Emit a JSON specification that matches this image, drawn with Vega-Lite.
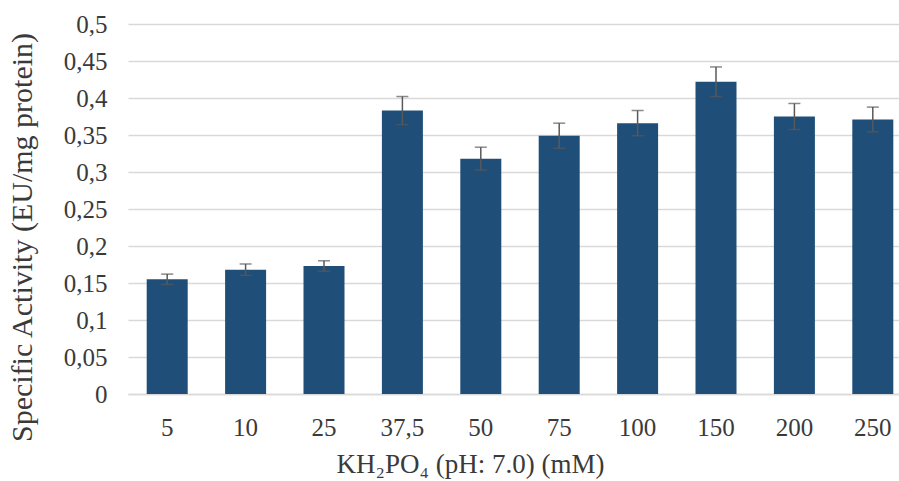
{
  "$schema": "https://vega.github.io/schema/vega-lite/v6.json",
  "autosize": {"type": "none"},
  "width": 784,
  "height": 370,
  "padding": {"left": 128, "top": 24, "right": 0, "bottom": 87},
  "background": "white",
  "config": {
    "view": {"stroke": null},
    "font": "Liberation Serif",
    "axisY": {
      "tickCount": 10,
      "labelOverlap": false,
      "labelExpr": "replace(format(datum.value, '~g'), '.', ',')",
      "labelFontSize": 25, "labelColor": "#3a3a3a", "labelPadding": 21,
      "ticks": false, "domain": false,
      "gridColor": "#d9d9d9", "gridWidth": 1.5,
      "titleFontSize": 30, "titleFontWeight": "normal", "titleColor": "#3a3a3a",
      "titleX": -97, "titleY": 213, "titleBaseline": "alphabetic"
    }
  },
  "data": {"values": [
    {"conc": "5", "value": 0.155, "err": 0.007},
    {"conc": "10", "value": 0.168, "err": 0.0077},
    {"conc": "25", "value": 0.173, "err": 0.007},
    {"conc": "37,5", "value": 0.383, "err": 0.019},
    {"conc": "50", "value": 0.318, "err": 0.0155},
    {"conc": "75", "value": 0.349, "err": 0.017},
    {"conc": "100", "value": 0.366, "err": 0.017},
    {"conc": "150", "value": 0.422, "err": 0.020},
    {"conc": "200", "value": 0.375, "err": 0.0176},
    {"conc": "250", "value": 0.371, "err": 0.0167}
  ]},
  "transform": [
    {"calculate": "datum.value + datum.err", "as": "hi"},
    {"calculate": "datum.value - datum.err", "as": "lo"}
  ],
  "encoding": {
    "x": {
      "field": "conc", "type": "nominal", "sort": null,
      "scale": {"paddingInner": 0.477, "paddingOuter": 0.2385},
      "axis": {
        "title": "KH₂PO₄ (pH: 7.0) (mM)",
        "labelAngle": 0, "labelFontSize": 25, "labelColor": "#3a3a3a",
        "labelPadding": 41, "labelBaseline": "alphabetic", "ticks": false,
        "domainColor": "#d9d9d9", "domainWidth": 1.5,
        "titleFontSize": 27, "titleFontWeight": "normal", "titleColor": "#3a3a3a",
        "titleX": 342, "titleY": 78, "titleBaseline": "alphabetic"
      }
    }
  },
  "layer": [
    {
      "mark": {"type": "bar", "color": "#1f4e79"},
      "encoding": {
        "y": {
          "field": "value", "type": "quantitative",
          "scale": {"domain": [0, 0.5], "nice": false},
          "axis": {"title": "Specific Activity (EU/mg protein)"}
        }
      }
    },
    {
      "mark": {"type": "rule", "color": "#595959", "strokeWidth": 1.5},
      "encoding": {
        "y": {"field": "lo", "type": "quantitative"},
        "y2": {"field": "hi"}
      }
    },
    {
      "mark": {"type": "tick", "color": "#595959", "thickness": 1.5, "size": 12},
      "encoding": {"y": {"field": "hi", "type": "quantitative"}}
    },
    {
      "mark": {"type": "tick", "color": "#595959", "thickness": 1.5, "size": 12},
      "encoding": {"y": {"field": "lo", "type": "quantitative"}}
    }
  ]
}
